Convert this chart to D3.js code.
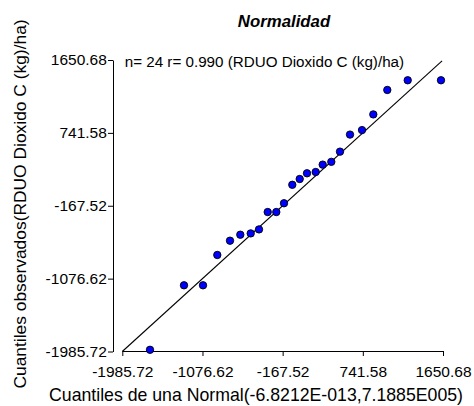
<!DOCTYPE html>
<html>
<head>
<meta charset="utf-8">
<script src="https://cdn.jsdelivr.net/npm/d3@7"></script>
<style>
  body { margin: 0; background: #fff; }
  svg { display: block; }
  text { font-family: "Liberation Sans", Arial, sans-serif; fill: #000; }
</style>
</head>
<body>
<svg id="chart" width="474" height="406"></svg>
<script>
// Theoretical normal quantiles (x) and observed sorted residuals (y), n = 24
const theoretical = [
  -1671.6, -1286.1, -1070.6, -908.5, -764.5, -647.7, -529.8, -435.7,
  -337.0, -239.5, -152.2, -58.1, 25.8, 108.6, 207.3, 286.6,
  384.2, 482.8, 596.2, 732.3, 860.4, 1019.1, 1250.5, 1628.0
];
const observed = [
  -1964.5, -1160.1, -1160.1, -781.5, -603.4, -528.7, -512.5, -462.7,
  -246.0, -246.0, -136.4, 94.0, 166.2, 237.2, 253.3, 345.5,
  380.4, 507.4, 720.3, 776.4, 971.9, 1277.0, 1397.8, 1397.8
];
const tickValues = [-1985.72, -1076.62, -167.52, 741.58, 1650.68];
const axisMin = -1985.72;
const axisMax = 1650.68;
const refLineEnds = [-1985.72, 1640];

const titleText = "Normalidad";
const statsText = "n= 24 r= 0.990 (RDUO Dioxido C (kg)/ha)";
const xTitle = "Cuantiles de una Normal(-6.8212E-013,7.1885E005)";
const yTitle = "Cuantiles observados(RDUO Dioxido C (kg)/ha)";

const svg = d3.select("#chart");

const x = d3.scaleLinear().domain([axisMin, axisMax]).range([122.3, 443]);
const y = d3.scaleLinear().domain([axisMin, axisMax]).range([351.5, 60]);
const fmt = d => d.toFixed(2);

// x axis
const gx = svg.append("g")
  .attr("transform", "translate(0,351)")
  .call(d3.axisBottom(x).tickValues(tickValues).tickFormat(fmt)
    .tickSize(5).tickSizeOuter(0));
gx.attr("font-size", null).attr("font-family", null);
gx.selectAll("text").style("font-size", "15.5px").attr("y", 25.5).attr("dy", null);
gx.selectAll("path,line").attr("stroke", "#000").attr("stroke-width", 1);

// y axis
const gy = svg.append("g")
  .attr("transform", "translate(113,0)")
  .call(d3.axisLeft(y).tickValues(tickValues).tickFormat(fmt)
    .tickSize(5).tickSizeOuter(0).tickPadding(1.2));
gy.attr("font-size", null).attr("font-family", null);
gy.selectAll("text").style("font-size", "15.5px").attr("dy", "0.3em");
gy.selectAll("path,line").attr("stroke", "#000").attr("stroke-width", 1);

// reference line y = x
svg.append("line")
  .attr("x1", x(refLineEnds[0])).attr("y1", y(refLineEnds[0]))
  .attr("x2", x(refLineEnds[1])).attr("y2", y(refLineEnds[1]))
  .attr("stroke", "#000").attr("stroke-width", 1.1);

// points
const pts = theoretical.map((t, i) => ({ t, o: observed[i] }));
svg.append("g").selectAll("circle")
  .data(pts)
  .join("circle")
  .attr("cx", d => x(d.t))
  .attr("cy", d => y(d.o))
  .attr("r", 3.7)
  .attr("fill", "#0000ff")
  .attr("stroke", "#000")
  .attr("stroke-width", 0.9);

// title
svg.append("text")
  .attr("x", 284).attr("y", 26.7)
  .attr("text-anchor", "middle")
  .style("font-size", "16.8px")
  .style("font-weight", "bold")
  .style("font-style", "italic")
  .text(titleText);

// stats annotation
svg.append("text")
  .attr("x", 124.7).attr("y", 67)
  .style("font-size", "15.2px")
  .text(statsText);

// axis titles
svg.append("text")
  .attr("x", 256).attr("y", 401)
  .attr("text-anchor", "middle")
  .style("font-size", "17.7px")
  .text(xTitle);

svg.append("text")
  .attr("transform", "translate(25.5,204) rotate(-90)")
  .attr("text-anchor", "middle")
  .style("font-size", "17.4px")
  .text(yTitle);
</script>
</body>
</html>
